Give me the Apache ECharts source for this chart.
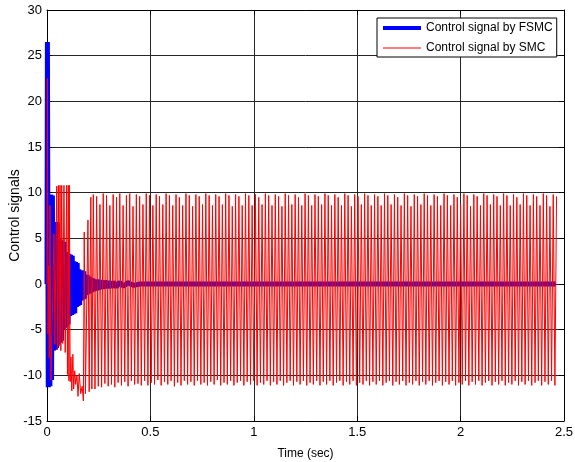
<!DOCTYPE html>
<html><head><meta charset="utf-8">
<script src="https://cdn.jsdelivr.net/npm/echarts@6/dist/echarts.min.js"></script>
<style>html,body{margin:0;padding:0;background:#fff}#c{width:575px;height:462px}</style>
</head><body><div id="c"></div>
<script>
const seriesNames = ['Control signal by FSMC', 'Control signal by SMC'];
const xRange = [0, 2.5, 0.5];
const yRange = [-15, 30, 5];
const xAxisTitle = 'Time (sec)';
const yAxisTitle = 'Control signals';

const fsmcTime = [0,0.002,0.006,0.010,0.014,0.018,0.022,0.026,0.030,0.034,0.038,0.042,0.046,0.050,0.054,0.058,0.062,0.066,0.070,0.074,0.078,0.082,0.086,0.090,0.094,0.098,0.102,0.106,0.110,0.114,0.118,0.122,0.126,0.130,0.134,0.138,0.142,0.146,0.150,0.154,0.158,0.162,0.166,0.170,0.174,0.178,0.182,0.186,0.190,0.194,0.198,0.202,0.206,0.210,0.214,0.220,0.226,0.232,0.238,0.244,0.250,0.260,0.270,0.280,0.290,0.300,0.310,0.320,0.335,0.350,0.370,0.390,0.420,0.450,2.460];
const fsmcValue = [0,26.5,-11.3,9.8,-11.2,9.8,-10.5,9.7,-7.3,6.8,-7.2,6.8,-7.0,6.7,-6.6,5.0,-6.4,4.8,-6.2,4.7,-5.0,4.6,-4.8,3.5,-4.6,3.4,-4.4,3.3,-3.5,3.2,-3.4,3.1,-3.3,2.5,-3.2,2.4,-2.5,2.3,-2.4,1.6,-2.3,1.5,-1.8,1.5,-1.7,1.4,-1.6,1.0,-1.2,1.0,-1.1,0.8,-1.0,0.7,-0.9,0.6,-0.8,0.5,-0.7,0.5,-0.6,0.4,-0.5,0.35,-0.45,0.3,-0.4,0.25,-0.35,0.2,-0.25,0.15,-0.15,0,0];

const smcTime = [0,0.002,0.005,0.008,0.011,0.0145,0.019,0.034,0.038,0.047,0.051,0.055,0.059,0.063,0.067,0.071,0.076,0.082,0.088,0.095,0.099,0.103,0.106,0.108,0.112,0.116,0.120,0.125,0.129,0.134,0.139,0.145,0.150,0.156,0.163,0.170,0.176,0.180,0.186,0.198,0.204,0.212,0.217,
0.224,0.232,0.240,0.248,0.256,0.264,0.272,0.280,0.288,0.296,
0.304,0.312,0.320,0.328,0.336,0.344,0.352,0.360,0.368,0.376,
0.384,0.392,0.400,0.408,0.416,0.424,0.432,0.440,0.448,0.456,
0.464,0.472,0.480,0.488,0.496,0.504,0.512,0.520,0.528,0.536,
0.544,0.552,0.560,0.568,0.576,0.584,0.592,0.600,0.608,0.616,
0.624,0.632,0.640,0.648,0.656,0.664,0.672,0.680,0.688,0.696,
0.704,0.712,0.720,0.728,0.736,0.744,0.752,0.760,0.768,0.776,
0.784,0.792,0.800,0.808,0.816,0.824,0.832,0.840,0.848,0.856,
0.864,0.872,0.880,0.888,0.896,0.904,0.912,0.920,0.928,0.936,
0.944,0.952,0.960,0.968,0.976,0.984,0.992,1.000,1.008,1.016,
1.024,1.032,1.040,1.048,1.056,1.064,1.072,1.080,1.088,1.096,
1.104,1.112,1.120,1.128,1.136,1.144,1.152,1.160,1.168,1.176,
1.184,1.192,1.200,1.208,1.216,1.224,1.232,1.240,1.248,1.256,
1.264,1.272,1.280,1.288,1.296,1.304,1.312,1.320,1.328,1.336,
1.344,1.352,1.360,1.368,1.376,1.384,1.392,1.400,1.408,1.416,
1.424,1.432,1.440,1.448,1.456,1.464,1.472,1.480,1.488,1.496,
1.504,1.512,1.520,1.528,1.536,1.544,1.552,1.560,1.568,1.576,
1.584,1.592,1.600,1.608,1.616,1.624,1.632,1.640,1.648,1.656,
1.664,1.672,1.680,1.688,1.696,1.704,1.712,1.720,1.728,1.736,
1.744,1.752,1.760,1.768,1.776,1.784,1.792,1.800,1.808,1.816,
1.824,1.832,1.840,1.848,1.856,1.864,1.872,1.880,1.888,1.896,
1.904,1.912,1.920,1.928,1.936,1.944,1.952,1.960,1.968,1.976,
1.984,1.992,2.000,2.008,2.016,2.024,2.032,2.040,2.048,2.056,
2.064,2.072,2.080,2.088,2.096,2.104,2.112,2.120,2.128,2.136,
2.144,2.152,2.160,2.168,2.176,2.184,2.192,2.200,2.208,2.216,
2.224,2.232,2.240,2.248,2.256,2.264,2.272,2.280,2.288,2.296,
2.304,2.312,2.320,2.328,2.336,2.344,2.352,2.360,2.368,2.376,
2.384,2.392,2.400,2.408,2.416,2.424,2.432,2.440,2.448,2.456,
2.464];
const smcValue = [0,22.5,-5.5,2,-8.1,8.6,-10.5,5.5,-6.6,10.7,-7.2,10.8,-6.8,10.8,-7.3,10.8,-6.5,10.8,-7.5,10.8,-9.9,10.8,-10.6,10.8,-10.7,-8.0,-11.7,-7.7,-11.5,-9.5,-11.0,-10.0,-12.3,-9.8,-12.0,-11.2,-12.8,5.7,-12.0,7.0,-11.8,9.5,-11.5,
9.8,-11.5,9.6,-11.2,8.7,-11.3,9.9,-10.9,9.7,-11.2,
8.6,-11.0,9.8,-11.3,9.5,-10.8,9.9,-11.1,8.6,-10.7,
9.7,-11.2,9.9,-10.6,8.5,-11.0,9.8,-10.9,9.6,-11.1,
8.7,-10.6,9.9,-11.1,9.7,-10.8,8.6,-11.0,9.8,-10.5,
9.6,-11.1,8.7,-10.7,9.9,-11.0,9.7,-10.6,8.6,-11.2,
9.8,-10.8,9.5,-11.1,8.6,-10.6,9.9,-11.0,9.7,-10.7,
8.5,-11.1,9.8,-10.6,9.6,-11.0,8.7,-10.8,9.9,-11.1,
9.7,-10.7,8.6,-11.0,9.8,-10.5,9.6,-11.1,8.7,-10.8,
9.9,-11.0,9.7,-10.6,8.5,-11.1,9.8,-10.8,9.6,-10.6,
8.6,-11.1,9.9,-10.7,9.7,-11.0,8.6,-10.6,9.8,-11.1,
9.5,-10.8,8.7,-11.0,9.9,-10.6,9.7,-11.1,8.6,-10.7,
9.8,-11.0,9.6,-10.6,8.5,-11.1,9.9,-10.8,9.7,-10.6,
8.7,-11.1,9.8,-10.7,9.5,-11.0,8.6,-10.6,9.9,-11.1,
9.7,-10.8,8.6,-11.0,9.8,-10.6,9.6,-11.1,8.7,-10.7,
9.9,-11.0,9.7,-10.6,8.6,-11.1,9.8,-10.8,9.5,-10.6,
8.6,-11.1,9.9,-10.7,9.7,-11.0,8.5,-10.6,9.8,-11.1,
9.6,-10.8,8.7,-11.0,9.9,-10.6,9.7,-11.1,8.6,-10.7,
9.8,-11.0,9.6,-10.6,8.6,-11.1,9.9,-10.8,9.7,-10.6,
8.7,-11.1,9.8,-10.7,9.5,-11.0,8.6,-10.6,9.9,-11.1,
9.7,-10.8,8.5,-11.0,9.8,-10.6,9.6,-11.1,8.7,-10.7,
9.9,-11.0,9.7,-10.6,8.6,-11.1,9.8,-10.8,9.6,-10.6,
8.6,-11.1,9.9,-10.7,9.7,-11.0,8.6,-10.6,9.8,-11.1,
9.5,-10.8,8.7,-11.0,9.9,-10.6,9.7,-11.1,8.5,-10.7,
9.8,-11.0,9.6,-10.6,8.6,-11.1,9.9,-10.8,9.7,-10.6,
8.7,-11.1,9.8,-10.7,9.6,-11.0,8.6,-10.6,9.9,-11.1,
9.7,-10.8,8.6,-11.0,9.8,-10.6,9.5,-11.1,8.7,-10.7,
9.9,-11.0,9.7,-10.6,8.6,-11.1,9.8,-10.8,9.6,-10.6,
8.6,-11.1,9.9,-10.7,9.7,-11.0,8.5,-10.6,9.8,-11.1,
9.6];

const FONT = "'Liberation Sans', Arial, sans-serif";
const chart = echarts.init(document.getElementById('c'), null, {renderer: 'canvas'});
const pair = (ts, vs) => ts.map((t, i) => [t, vs[i]]);
const axisCommonX = {type: 'value', min: xRange[0], max: xRange[1], interval: xRange[2]};
const axisCommonY = {type: 'value', min: yRange[0], max: yRange[1], interval: yRange[2]};
chart.setOption({
  animation: false,
  backgroundColor: '#fff',
  textStyle: {fontFamily: FONT},
  grid: {left: 47, right: 11, top: 10, bottom: 41, containLabel: false, outerBoundsMode: 'none'},
  legend: {
    left: 377, top: 18, orient: 'vertical',
    padding: [4, 4, 3, 6], itemGap: 8, itemWidth: 38, itemHeight: 14,
    backgroundColor: '#fff', borderColor: '#000', borderWidth: 1, borderRadius: 0,
    textStyle: {fontSize: 12, color: '#000', fontFamily: FONT},
    data: [
      {name: seriesNames[0], icon: 'path://M0,0 L38,0 L38,4 L0,4 Z'},
      {name: seriesNames[1], icon: 'path://M0,0 L38,0 L38,1 L0,1 Z'}
    ]
  },
  xAxis: [
    Object.assign({}, axisCommonX, {
      position: 'bottom',
      name: xAxisTitle, nameLocation: 'middle', nameGap: 27, nameMoveOverlap: false,
      nameTextStyle: {fontSize: 12, color: '#000', fontFamily: FONT},
      axisLine: {show: true, onZero: false, lineStyle: {color: '#000', width: 1}},
      axisTick: {show: true, inside: true, length: 5, lineStyle: {color: '#000'}},
      axisLabel: {fontSize: 13, color: '#000', margin: 5, fontFamily: FONT},
      splitLine: {show: true, lineStyle: {color: '#262626', width: 1}}
    }),
    Object.assign({}, axisCommonX, {
      position: 'top',
      axisLine: {show: true, onZero: false, lineStyle: {color: '#000', width: 1}},
      axisTick: {show: true, inside: true, length: 5, lineStyle: {color: '#000'}},
      axisLabel: {show: false}, splitLine: {show: false}
    })
  ],
  yAxis: [
    Object.assign({}, axisCommonY, {
      position: 'left',
      name: yAxisTitle, nameLocation: 'middle', nameGap: 25, nameRotate: 90, nameMoveOverlap: false,
      nameTextStyle: {fontSize: 14, color: '#000', fontFamily: FONT},
      axisLine: {show: true, onZero: false, lineStyle: {color: '#000', width: 1}},
      axisTick: {show: true, inside: true, length: 5, lineStyle: {color: '#000'}},
      axisLabel: {fontSize: 13, color: '#000', margin: 5, fontFamily: FONT},
      splitLine: {show: true, lineStyle: {color: '#262626', width: 1}}
    }),
    Object.assign({}, axisCommonY, {
      position: 'right',
      axisLine: {show: true, onZero: false, lineStyle: {color: '#000', width: 1}},
      axisTick: {show: true, inside: true, length: 5, lineStyle: {color: '#000'}},
      axisLabel: {show: false}, splitLine: {show: false}
    })
  ],
  series: [
    {
      name: seriesNames[0], type: 'line', xAxisIndex: 0, yAxisIndex: 0,
      data: pair(fsmcTime, fsmcValue),
      symbol: 'none', showSymbol: false, smooth: false,
      lineStyle: {color: '#0000ff', width: 5, join: 'bevel'},
      itemStyle: {color: '#0000ff'}, z: 2
    },
    {
      name: seriesNames[1], type: 'line', xAxisIndex: 0, yAxisIndex: 0,
      data: pair(smcTime, smcValue),
      symbol: 'none', showSymbol: false, smooth: false,
      lineStyle: {color: '#ff0000', width: 1, join: 'bevel'},
      itemStyle: {color: '#ff0000'}, z: 3
    }
  ]
});
</script>
</body></html>
